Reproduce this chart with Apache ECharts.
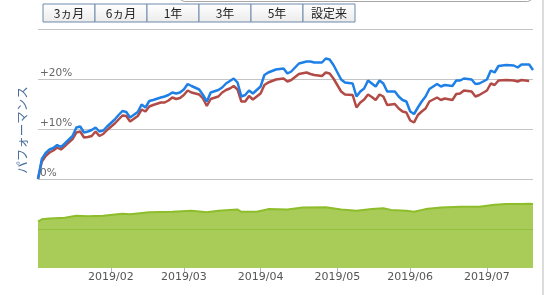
<!DOCTYPE html>
<html>
<head>
<meta charset="utf-8">
<script src="https://cdn.jsdelivr.net/npm/echarts@6/dist/echarts.min.js"></script>
<style>
  html, body { margin: 0; padding: 0; background: #fff; }
  #chart { width: 544px; height: 295px; }
</style>
</head>
<body>
<div id="chart"></div>
<script>
// 期間ボタン
var rangeButtons = ['3ヵ月', '6ヵ月', '1年', '3年', '5年', '設定来'];

// 営業日（2019/01/04 〜 2019/07/18、休場日を除く）
var firstDay = '2019-01-04';
var lastDay = '2019-07-18';
var holidays = ['2019-01-14', '2019-02-11', '2019-03-21', '2019-04-29', '2019-04-30',
  '2019-05-01', '2019-05-02', '2019-05-03', '2019-05-06', '2019-07-15'];

// パフォーマンス（%）: 営業日番号ごとの読み取り値
var perfDay = [0, 1, 2, 3, 4, 5, 6, 7, 9, 10, 11, 12, 13, 14, 15, 16, 17, 18, 20, 21, 22, 23, 24,
  26, 27, 28, 29, 30, 32, 33, 34, 35, 36, 37, 38, 39, 40, 42, 43, 44, 45, 47, 48, 49, 50, 51,
  52, 53, 54, 55, 56, 58, 59, 60, 62, 64, 65, 66, 68, 70, 71, 72, 74, 75, 76, 77, 79, 80, 82,
  83, 84, 85, 86, 87, 88, 89, 90, 91, 93, 94, 95, 96, 97, 98, 99, 100, 101, 102, 104, 105,
  106, 108, 109, 110, 111, 113, 114, 115, 117, 118, 119, 120, 122, 124, 125, 126, 128, 129];
var fundPerf = [0.0, 4.0, 5.2, 5.9, 6.2, 6.8, 6.4, 7.1, 8.6, 10.3, 10.5, 9.3, 9.5, 9.8, 10.3, 9.5,
  9.7, 10.5, 11.9, 12.8, 13.6, 13.4, 12.3, 13.4, 14.9, 14.3, 15.6, 15.8, 16.3, 16.5, 16.8, 17.3,
  17.1, 17.3, 17.9, 19.0, 18.6, 17.9, 16.8, 15.5, 17.3, 17.8, 18.3, 19.1, 19.6, 20.1, 19.3, 16.5,
  16.8, 17.7, 17.1, 18.5, 20.8, 21.3, 21.9, 22.1, 21.1, 21.5, 23.1, 23.5, 23.5, 23.3, 23.3, 24.1,
  23.9, 22.8, 19.9, 19.3, 19.1, 16.5, 17.5, 18.1, 19.7, 19.1, 18.5, 19.7, 19.1, 17.5, 17.5, 16.5,
  15.8, 15.5, 13.5, 13.0, 14.3, 15.5, 16.5, 18.0, 19.0, 18.5, 18.8, 18.6, 19.7, 19.7, 20.1, 19.9,
  19.0, 19.1, 19.9, 21.7, 21.3, 22.6, 22.8, 22.7, 22.3, 22.9, 22.9, 21.8];
var benchPerf = [0.0, 3.5, 4.6, 5.3, 5.7, 6.3, 5.9, 6.6, 8.0, 9.3, 9.5, 8.3, 8.4, 8.6, 9.5, 8.6,
  9.0, 9.8, 11.1, 11.9, 12.7, 12.6, 11.5, 12.6, 13.9, 13.5, 14.5, 14.8, 15.3, 15.3, 15.7, 16.3,
  16.0, 16.2, 16.8, 17.7, 17.3, 16.9, 16.1, 14.6, 16.0, 16.5, 17.3, 17.8, 18.1, 18.6, 17.9, 15.5,
  15.5, 16.6, 15.9, 17.1, 18.8, 19.3, 19.9, 20.1, 19.5, 19.8, 21.0, 21.3, 21.0, 20.8, 20.6, 21.3,
  21.1, 20.1, 17.5, 16.9, 16.8, 14.3, 15.3, 15.9, 16.9, 16.4, 15.8, 16.9, 16.5, 14.8, 15.0, 14.1,
  13.5, 13.3, 11.7, 11.3, 12.8, 13.5, 14.1, 15.5, 16.3, 15.8, 16.1, 15.8, 17.0, 17.1, 17.7, 17.5,
  16.5, 16.8, 17.7, 19.1, 18.8, 19.7, 19.8, 19.7, 19.5, 19.8, 19.6, null];

// 純資産（下段）
var assetDay = [0, 1, 3, 7, 10, 13, 17, 22, 24, 29, 35, 40, 44, 47, 52, 53, 57, 60, 65, 69, 75,
  79, 83, 87, 90, 92, 96, 98, 101, 105, 110, 115, 119, 122, 126, 128, 129];
var assetVals = [1.19, 1.25, 1.27, 1.29, 1.34, 1.33, 1.34, 1.39, 1.38, 1.43, 1.44, 1.47, 1.43,
  1.47, 1.50, 1.44, 1.44, 1.51, 1.50, 1.55, 1.56, 1.50, 1.47, 1.51, 1.53, 1.49, 1.47, 1.44,
  1.51, 1.55, 1.57, 1.57, 1.62, 1.64, 1.64, 1.65, 1.64];

function pad(n) { return n < 10 ? '0' + n : '' + n; }

// 営業日リストを作る
var days = [];
var d = new Date(firstDay + 'T00:00:00Z');
var end = new Date(lastDay + 'T00:00:00Z');
while (d <= end) {
  var key = d.getUTCFullYear() + '-' + pad(d.getUTCMonth() + 1) + '-' + pad(d.getUTCDate());
  var wd = d.getUTCDay();
  if (wd !== 0 && wd !== 6 && holidays.indexOf(key) < 0) {
    days.push(key.replace(/-/g, '/'));
  }
  d.setUTCDate(d.getUTCDate() + 1);
}

function pairs(idx, vals) {
  var out = [];
  for (var i = 0; i < idx.length; i++) {
    if (vals[i] !== null) out.push([days[idx[i]], vals[i]]);
  }
  return out;
}

// 月初の営業日だけラベルを出す
function isMonthStart(index) {
  return index > 0 && days[index].slice(0, 7) !== days[index - 1].slice(0, 7);
}

var graphics = [];
rangeButtons.forEach(function (t, i) {
  graphics.push({
    type: 'rect',
    shape: { x: 43 + i * 52, y: 4, width: 52, height: 18 },
    style: {
      fill: new echarts.graphic.LinearGradient(0, 0, 0, 1, [
        { offset: 0, color: '#ffffff' }, { offset: 1, color: '#ebebeb' }
      ]),
      stroke: '#6f89ad', lineWidth: 1
    }
  });
  graphics.push({
    type: 'text',
    x: 43 + i * 52 + 26, y: 13.5,
    style: {
      text: t, fill: '#222', fontSize: 12, fontFamily: 'Noto Sans CJK JP',
      align: 'center', verticalAlign: 'middle'
    }
  });
});
graphics.push({
  type: 'rect',
  shape: { x: 180.5, y: -20, width: 351, height: 21.5, r: 4 },
  style: { fill: 'none', stroke: '#a6a6a6', lineWidth: 1 }
});
graphics.push({
  type: 'line',
  shape: { x1: 543, y1: 0, x2: 543, y2: 295 },
  style: { stroke: '#dcdcdc', lineWidth: 2 }
});
graphics.push({
  type: 'text',
  x: 22, y: 130, rotation: Math.PI / 2,
  style: {
    text: 'パフォーマンス', fill: '#4b6f9b', fontSize: 12.5, fontFamily: 'Noto Sans CJK JP',
    align: 'center', verticalAlign: 'middle'
  }
});

var chart = echarts.init(document.getElementById('chart'));
chart.setOption({
  animation: false,
  graphic: graphics,
  grid: [
    { left: 38, right: 11, top: 29, height: 150 },
    { left: 38, right: 11, top: 190, height: 78 }
  ],
  xAxis: [
    {
      type: 'category', gridIndex: 0, data: days, boundaryGap: false,
      axisLine: { show: false }, axisTick: { show: false }, axisLabel: { show: false },
      splitLine: { show: false }
    },
    {
      type: 'category', gridIndex: 1, data: days, boundaryGap: false,
      axisLine: { show: false },
      axisTick: { show: true, length: 5, interval: isMonthStart, lineStyle: { color: '#aab8c8' } },
      axisLabel: {
        interval: isMonthStart, margin: 4, color: '#555', fontSize: 11, fontFamily: 'DejaVu Sans',
        formatter: function (v) { return v.slice(0, 7); }
      },
      splitLine: { show: false }
    }
  ],
  yAxis: [
    {
      type: 'value', gridIndex: 0, min: 0, max: 30, interval: 10,
      axisLine: { show: false }, axisTick: { show: false },
      axisLabel: {
        inside: true, margin: 2, verticalAlign: 'bottom', color: '#666',
        fontSize: 10.5, fontFamily: 'DejaVu Sans',
        formatter: function (v) { return v === 30 ? '' : (v === 0 ? '0%' : '+' + v + '%'); }
      },
      splitLine: { lineStyle: { color: '#c4c4c4', width: 1 } }
    },
    {
      type: 'value', gridIndex: 1, min: 0, max: 2, interval: 1, z: 5,
      axisLine: { show: false }, axisTick: { show: false }, axisLabel: { show: false },
      splitLine: { lineStyle: { color: ['transparent', '#92bf3c', 'transparent'], width: 1 } }
    }
  ],
  series: [
    {
      name: '純資産', type: 'line', xAxisIndex: 1, yAxisIndex: 1,
      data: pairs(assetDay, assetVals), symbol: 'none',
      lineStyle: { color: '#8dbd2a', width: 2 },
      areaStyle: { color: '#a9cc59', opacity: 1 }
    },
    {
      name: 'ベンチマーク', type: 'line', xAxisIndex: 0, yAxisIndex: 0,
      data: pairs(perfDay, benchPerf), symbol: 'none',
      lineStyle: { color: '#b24a46', width: 2.5 }
    },
    {
      name: 'ファンド', type: 'line', xAxisIndex: 0, yAxisIndex: 0,
      data: pairs(perfDay, fundPerf), symbol: 'none',
      lineStyle: { color: '#1e80e6', width: 2.5 }
    }
  ]
});
</script>
</body>
</html>
